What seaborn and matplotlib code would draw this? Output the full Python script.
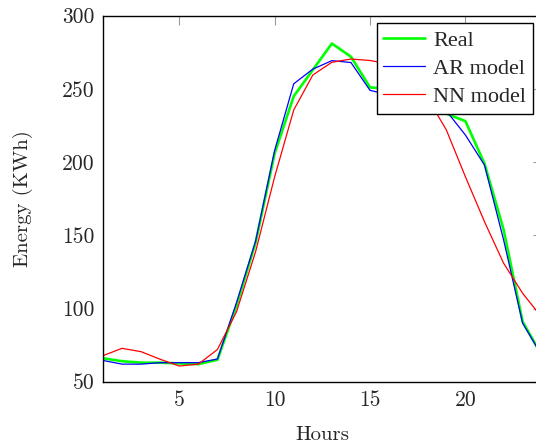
import matplotlib
matplotlib.use("Agg")
import matplotlib.pyplot as plt
import seaborn as sns
import pandas as pd

# values
hours = list(range(1, 25))
real = [66, 64, 63, 63, 62.5, 62, 65, 102, 145, 206, 245, 263,
        281, 272, 251, 250, 246, 240, 233, 228, 199, 154, 91, 68]
ar_model = [64.5, 62, 62, 63, 63, 63, 65.5, 104, 146, 208, 253.5, 263.5,
            269.3, 268, 249, 246, 244, 240, 235, 218.5, 198, 147, 90, 68]
nn_model = [67.8, 72.8, 70.5, 65.3, 60.7, 62, 72, 97.8, 138.8, 190, 235.6, 259.5,
            268.2, 270.4, 269.4, 267, 258, 244, 222, 190, 159.3, 131, 110.4, 94]

series_names = ["Real", "AR model", "NN model"]
series_colors = ["#00ff00", "#0000ff", "#ff0000"]
series_widths = [1.9, 0.9, 0.9]

x_ticks = [5, 10, 15, 20]
y_ticks = [50, 100, 150, 200, 250, 300]

sns.set_style("white")
plt.rcParams["font.family"] = ["cmr10", "DejaVu Serif"]
plt.rcParams["axes.formatter.use_mathtext"] = True

df = pd.DataFrame({"Hours": hours, "Real": real,
                   "AR model": ar_model, "NN model": nn_model})

fig = plt.figure(figsize=(5.36, 4.44), dpi=100)
# axes run a little past the right edge of the picture, as in the reference
ax = fig.add_axes([103 / 536, 62.3 / 444, 438.7 / 536, 366 / 444])

for name, col, lw in zip(series_names, series_colors, series_widths):
    sns.lineplot(data=df, x="Hours", y=name, color=col, linewidth=lw,
                 label=name, ax=ax)

ax.set_xlim(1, 24)
ax.set_ylim(50, 300)
ax.set_xticks(x_ticks)
ax.set_yticks(y_ticks)
ax.set_xticklabels([str(v) for v in x_ticks])
ax.set_yticklabels([str(v) for v in y_ticks])
ax.tick_params(direction="in", length=6.5, width=0.8, color="#9a9a9a",
               labelsize=15.5, top=True, right=True, pad=6)
for s in ax.spines.values():
    s.set_color("black")
    s.set_linewidth(1.0)

ax.set_xlabel("Hours", fontsize=15, labelpad=12)
ax.set_ylabel("Energy (KWh)", fontsize=15, labelpad=21)

leg = ax.legend(loc="upper right", bbox_to_anchor=(0.98, 0.979),
                borderaxespad=0, fancybox=False, framealpha=1,
                edgecolor="black", handlelength=1.9, handletextpad=0.35,
                labelspacing=0.35, borderpad=0.3,
                prop={"family": "Liberation Serif", "size": 16})
leg.get_frame().set_linewidth(1.0)

fig.savefig("out.png", dpi=100)
plt.close(fig)
